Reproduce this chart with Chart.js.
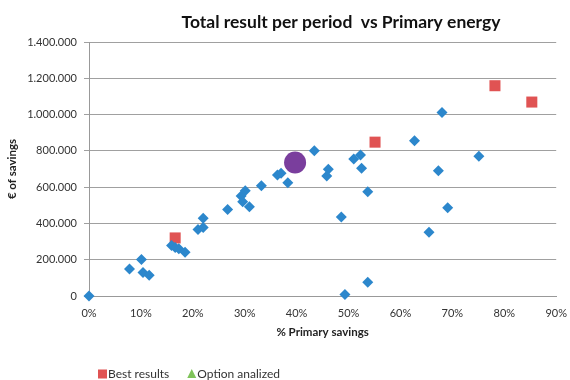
<!DOCTYPE html>
<html>
<head>
<meta charset="utf-8">
<script src="https://cdn.jsdelivr.net/npm/chart.js@4"></script>
<style>
    html, body { margin: 0; padding: 0; background: #fff; }
    #wrap { width: 570px; height: 380px; }
</style>
</head>
<body>
<div id="wrap"><canvas id="chart" width="570" height="380"></canvas></div>
<script>
// Chart values
// All options (x = share of primary savings in %, y = euros)
const optionsX = [0, 7.8, 10.1, 10.4, 11.6, 15.9, 16.6, 17.3, 18.5, 21.0, 22.0, 22.0, 26.7, 29.3, 30.1, 29.6, 30.9,
    33.2, 36.3, 37.0, 38.3, 43.4, 46.1, 45.8, 51.0, 52.3, 52.5, 53.7, 62.7, 68.0, 75.1, 67.3, 69.1, 65.5, 48.6, 53.7, 49.3];
const optionsY = [0, 149000, 201000, 129000, 114000, 278000, 268000, 260000, 241000, 367000, 378000, 428000, 477000,
    551000, 580000, 519000, 492000, 608000, 667000, 676000, 624000, 801000, 698000, 661000, 755000, 777000, 704000,
    575000, 856000, 1011000, 770000, 691000, 486000, 352000, 435000, 76000, 8000];

// Best results
const bestX = [16.6, 55.1, 78.2, 85.3];
const bestY = [320000, 848000, 1159000, 1069000];

// Option analized (empty in the chart, shown in legend only)
const analizedX = [];
const analizedY = [];

// Highlighted option
const selectedX = [39.7];
const selectedY = [736000];

const xTicks = [0, 10, 20, 30, 40, 50, 60, 70, 80, 90];
const yTicks = [0, 200000, 400000, 600000, 800000, 1000000, 1200000, 1400000];

const TITLE = 'Total result per period  vs Primary energy';
const FONT = 'Lato, "Open Sans", sans-serif';

function toPoints(xs, ys) {
    return xs.map((x, i) => ({ x: x, y: ys[i] }));
}

// 1400000 -> "1.400.000"
function formatEuro(value) {
    return String(Math.round(value)).replace(/\B(?=(\d{3})+(?!\d))/g, '.');
}

// Title sits a bit right of centre in the original, so draw it ourselves
const topTitle = {
    id: 'topTitle',
    afterDraw(chart) {
        const ctx = chart.ctx;
        ctx.save();
        ctx.font = 'bold 17.5px ' + FONT;
        ctx.fillStyle = '#111';
        ctx.textAlign = 'center';
        ctx.textBaseline = 'middle';
        ctx.fillText(TITLE, 341, 22);
        ctx.restore();
    }
};

// Legend drawn under the plot, left side, like the Excel original
const bottomLegend = {
    id: 'bottomLegend',
    afterDraw(chart) {
        const ctx = chart.ctx;
        let x = chart.chartArea.left + 9;
        const y = 374;
        ctx.save();
        ctx.font = '12px ' + FONT;
        ctx.textBaseline = 'middle';
        ctx.textAlign = 'left';
        chart.data.datasets.forEach(ds => {
            if (!ds.inLegend) return;
            ctx.fillStyle = ds.backgroundColor;
            if (ds.pointStyle === 'triangle') {
                ctx.beginPath();
                ctx.moveTo(x + 4.5, y - 5);
                ctx.lineTo(x + 9, y + 4);
                ctx.lineTo(x, y + 4);
                ctx.closePath();
                ctx.fill();
            } else {
                ctx.fillRect(x, y - 4.5, 9, 9);
            }
            ctx.fillStyle = '#333';
            ctx.fillText(ds.label, x + 10, y);
            x += 10 + ctx.measureText(ds.label).width + 18;
        });
        ctx.restore();
    }
};

const ctx = document.getElementById('chart').getContext('2d');
new Chart(ctx, {
    type: 'scatter',
    data: {
        datasets: [{
            label: 'Options',
            data: toPoints(optionsX, optionsY),
            pointStyle: 'rectRot',
            radius: 5.5,
            backgroundColor: '#2C87CC',
            borderColor: '#2C87CC',
            borderWidth: 0,
            clip: false
        }, {
            label: 'Best results',
            inLegend: true,
            data: toPoints(bestX, bestY),
            pointStyle: 'rect',
            radius: 7.8,
            backgroundColor: '#E05353',
            borderColor: '#E05353',
            borderWidth: 0,
            clip: false
        }, {
            label: 'Option analized',
            inLegend: true,
            data: toPoints(analizedX, analizedY),
            pointStyle: 'triangle',
            radius: 6,
            backgroundColor: '#7FC35A',
            borderColor: '#7FC35A',
            borderWidth: 0
        }, {
            label: 'Selected',
            data: toPoints(selectedX, selectedY),
            pointStyle: 'circle',
            radius: 11,
            backgroundColor: '#7A3E9D',
            borderColor: '#7A3E9D',
            borderWidth: 0,
            clip: false
        }]
    },
    options: {
        responsive: false,
        animation: false,
        layout: { padding: { left: 0, right: 11, top: 42, bottom: 40 } },
        plugins: {
            legend: { display: false },
            tooltip: { enabled: false },
            title: { display: false }
        },
        scales: {
            x: {
                type: 'linear',
                min: 0,
                max: 90,
                afterBuildTicks: axis => { axis.ticks = xTicks.map(v => ({ value: v })); },
                afterFit: axis => { axis.height = 44; },
                ticks: {
                    color: '#333',
                    font: { family: FONT, size: 11 },
                    padding: 3,
                    maxRotation: 0,
                    callback: v => v + '%'
                },
                grid: { display: false, drawOnChartArea: false },
                border: { color: '#999', width: 1 },
                title: {
                    display: true,
                    text: '% Primary savings',
                    color: '#222',
                    font: { family: FONT, size: 11.5, weight: 'bold' },
                    padding: { top: 0, bottom: 1 }
                }
            },
            y: {
                type: 'linear',
                min: 0,
                max: 1400000,
                afterBuildTicks: axis => { axis.ticks = yTicks.map(v => ({ value: v })); },
                afterFit: axis => { axis.width = 89; },
                ticks: {
                    color: '#333',
                    font: { family: FONT, size: 11 },
                    padding: 7,
                    callback: v => formatEuro(v)
                },
                grid: {
                    color: '#A0A0A0',
                    lineWidth: 1,
                    tickLength: 5
                },
                border: { color: '#999', width: 1 },
                title: {
                    display: true,
                    text: '€ of savings',
                    color: '#222',
                    font: { family: FONT, size: 11.5, weight: 'bold' },
                    padding: { top: 5, bottom: 0 }
                }
            }
        }
    },
    plugins: [topTitle, bottomLegend]
});
</script>
</body>
</html>
